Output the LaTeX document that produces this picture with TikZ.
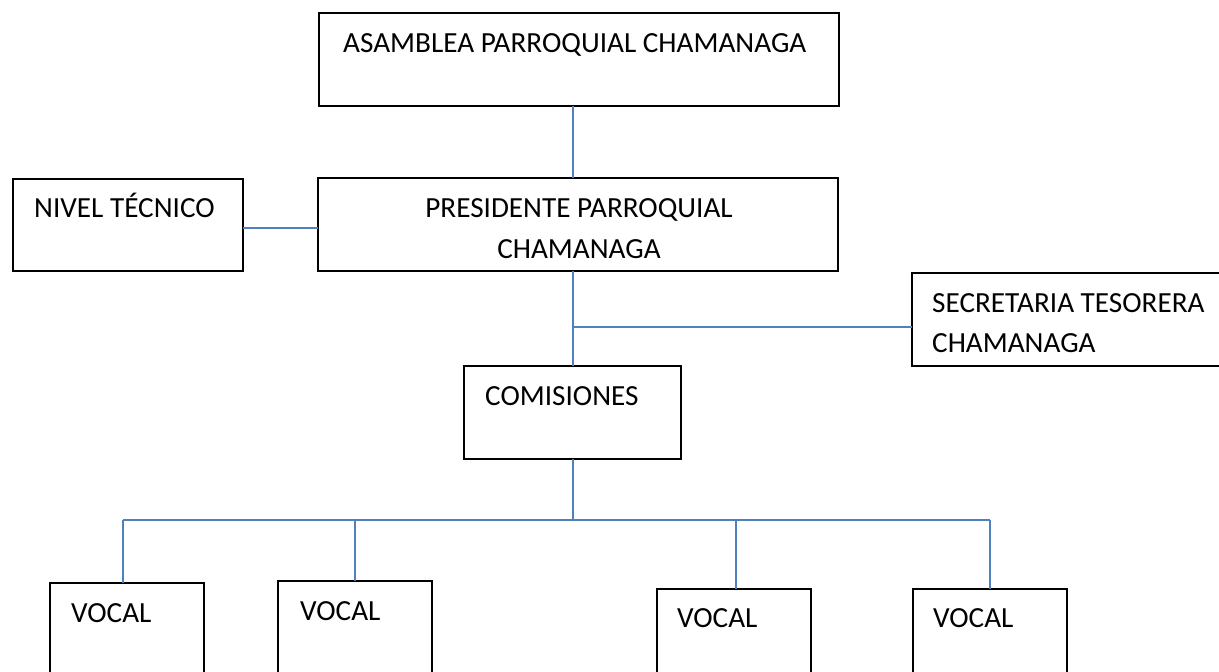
\documentclass[tikz,border=0pt]{standalone}
\usepackage{fontspec}
\setmainfont{Carlito}
\definecolor{linkblue}{HTML}{4F81BD}
\begin{document}
\begin{tikzpicture}[x=1pt,y=-1pt,
  box/.style={draw=black, line width=1.4pt, inner sep=0pt, outer sep=0pt, anchor=north west},
  lbl/.style={anchor=base west, inner sep=0pt, font=\fontsize{29.2}{35}\selectfont},
  link/.style={draw=linkblue, line width=2pt}]
\useasboundingbox (0,0) rectangle (1219,672);
\clip (0,0) rectangle (1219,672);
\fill[white] (0,0) rectangle (1219,672);
% boxes
\node[box, minimum width=520pt, minimum height=93pt] (asm) at (319,13) {};
\node[box, minimum width=230pt, minimum height=92pt] (niv) at (13,179) {};
\node[box, minimum width=520pt, minimum height=93pt] (pre) at (318,178) {};
\node[box, minimum width=330pt, minimum height=93pt] (sec) at (912,273) {};
\node[box, minimum width=217pt, minimum height=93pt] (com) at (464,366) {};
\node[box, minimum width=154pt, minimum height=120pt] (v1) at (50,583) {};
\node[box, minimum width=154pt, minimum height=120pt] (v2) at (278,581) {};
\node[box, minimum width=154pt, minimum height=120pt] (v3) at (657,589) {};
\node[box, minimum width=154pt, minimum height=120pt] (v4) at (913,589) {};
% labels
\node[lbl] (tasm) at (343,52) {ASAMBLEA PARROQUIAL CHAMANAGA};
\node[lbl] (tniv) at (34,217) {NIVEL TÉCNICO};
\node[lbl, anchor=base] (tpre1) at (579,217) {PRESIDENTE PARROQUIAL};
\node[lbl, anchor=base] (tpre2) at (579,258) {CHAMANAGA};
\node[lbl] (tsec1) at (932,312) {SECRETARIA TESORERA};
\node[lbl] (tsec2) at (932,352) {CHAMANAGA};
\node[lbl] (tcom) at (485,405) {COMISIONES};
\node[lbl] (tv1) at (71,622) {VOCAL};
\node[lbl] (tv2) at (300,620) {VOCAL};
\node[lbl] (tv3) at (677,627) {VOCAL};
\node[lbl] (tv4) at (933,627) {VOCAL};
% connector points
\coordinate (j1) at (572.5,327);
\coordinate (bus) at (572.5,520);
\coordinate (d1) at (123,520);
\coordinate (d2) at (355,520);
\coordinate (d3) at (736,520);
\coordinate (d4) at (990,520);
\coordinate (nj) at (243,228);
% connectors
\draw[link] (asm.south -| com.north) -- (pre.north -| com.north);
\draw[link] (nj) -- (nj -| pre.west);
\draw[link] (pre.south -| com.north) -- (com.north);
\draw[link] (j1) -- (j1 -| sec.west);
\draw[link] (com.south) -- (bus);
\draw[link] (d1) -- (d4);
\draw[link] (d1) -- (d1 |- v1.north);
\draw[link] (d2) -- (d2 |- v2.north);
\draw[link] (d3) -- (d3 |- v3.north);
\draw[link] (d4) -- (d4 |- v4.north);
\end{tikzpicture}
\end{document}
